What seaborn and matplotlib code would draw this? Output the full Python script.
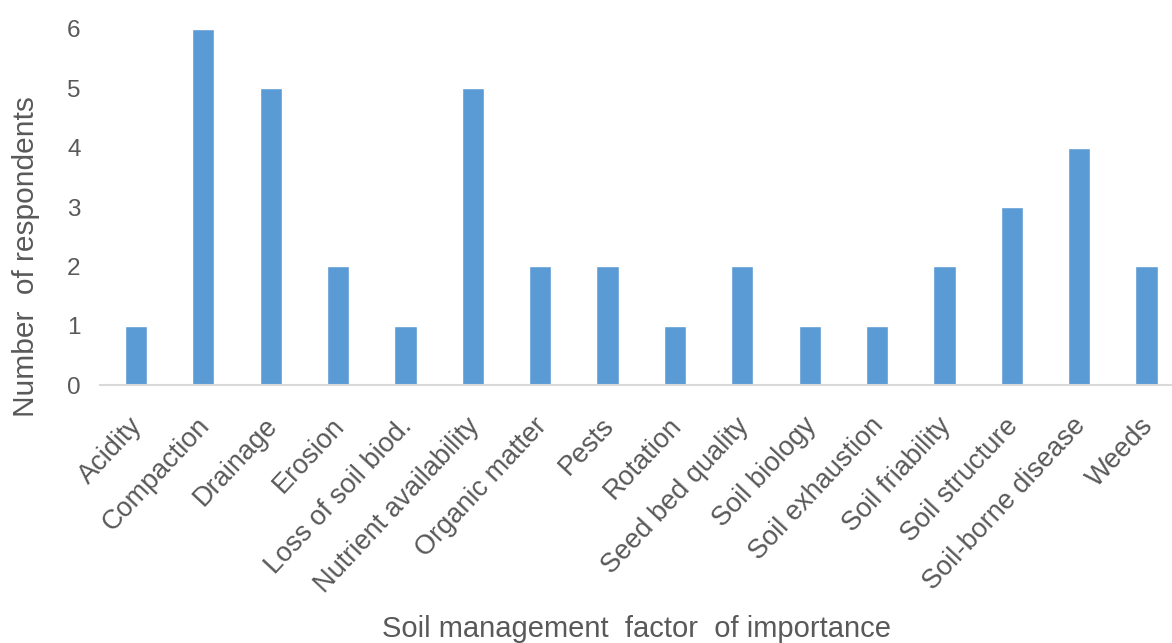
import matplotlib
matplotlib.use("Agg")
import matplotlib.pyplot as plt
import matplotlib.transforms as mtransforms
import seaborn as sns
import pandas as pd

categories = [
    "Acidity", "Compaction", "Drainage", "Erosion", "Loss of soil biod.",
    "Nutrient availability", "Organic matter", "Pests", "Rotation",
    "Seed bed quality", "Soil biology", "Soil exhaustion", "Soil friability",
    "Soil structure", "Soil-borne disease", "Weeds",
]
respondents = [1, 6, 5, 2, 1, 5, 2, 2, 1, 2, 1, 1, 2, 3, 4, 2]
y_ticks = [0, 1, 2, 3, 4, 5, 6]

df = pd.DataFrame({"factor": categories, "count": respondents})

sns.set_theme(style="white")
plt.rcParams["font.family"] = ["Liberation Sans", "DejaVu Sans"]

text_color = "#595959"
fig = plt.figure(figsize=(11.72, 6.43), dpi=100)
# the plot area runs a little past the right edge of the canvas
ax = fig.add_axes([0.0853, 0.401, 0.9198, 0.554])

sns.barplot(data=df, x="factor", y="count", color="#5B9BD5", width=0.33,
            saturation=1, ax=ax)

ax.set_ylim(0, 6)
ax.set_yticks(y_ticks)
ax.set_xlim(-0.534, len(categories) - 0.534)
for s in ["top", "right", "left"]:
    ax.spines[s].set_visible(False)
ax.spines["bottom"].set_color("#D9D9D9")
ax.spines["bottom"].set_linewidth(1.5)
ax.tick_params(axis="y", length=0, colors=text_color, labelsize=17.5, pad=14)
ax.tick_params(axis="x", length=0, colors=text_color, labelsize=19.5, pad=20)

# pull the slanted category labels so their ends sit just under each bar
shift = mtransforms.ScaledTranslation(-7 / 100, 0, fig.dpi_scale_trans)
for lbl in ax.get_xticklabels():
    lbl.set_rotation(47)
    lbl.set_ha("right")
    lbl.set_va("top")
    lbl.set_rotation_mode("anchor")
    lbl.set_transform(lbl.get_transform() + shift)

ax.set_xlabel("Soil management  factor  of importance", fontsize=21,
              color=text_color)
ax.xaxis.set_label_coords(0.498, -0.645)
ax.set_ylabel("Number  of respondents", fontsize=21.5, color=text_color)
ax.yaxis.set_label_coords(-0.056, 0.36)

fig.savefig("out.png", dpi=100, facecolor="white")
